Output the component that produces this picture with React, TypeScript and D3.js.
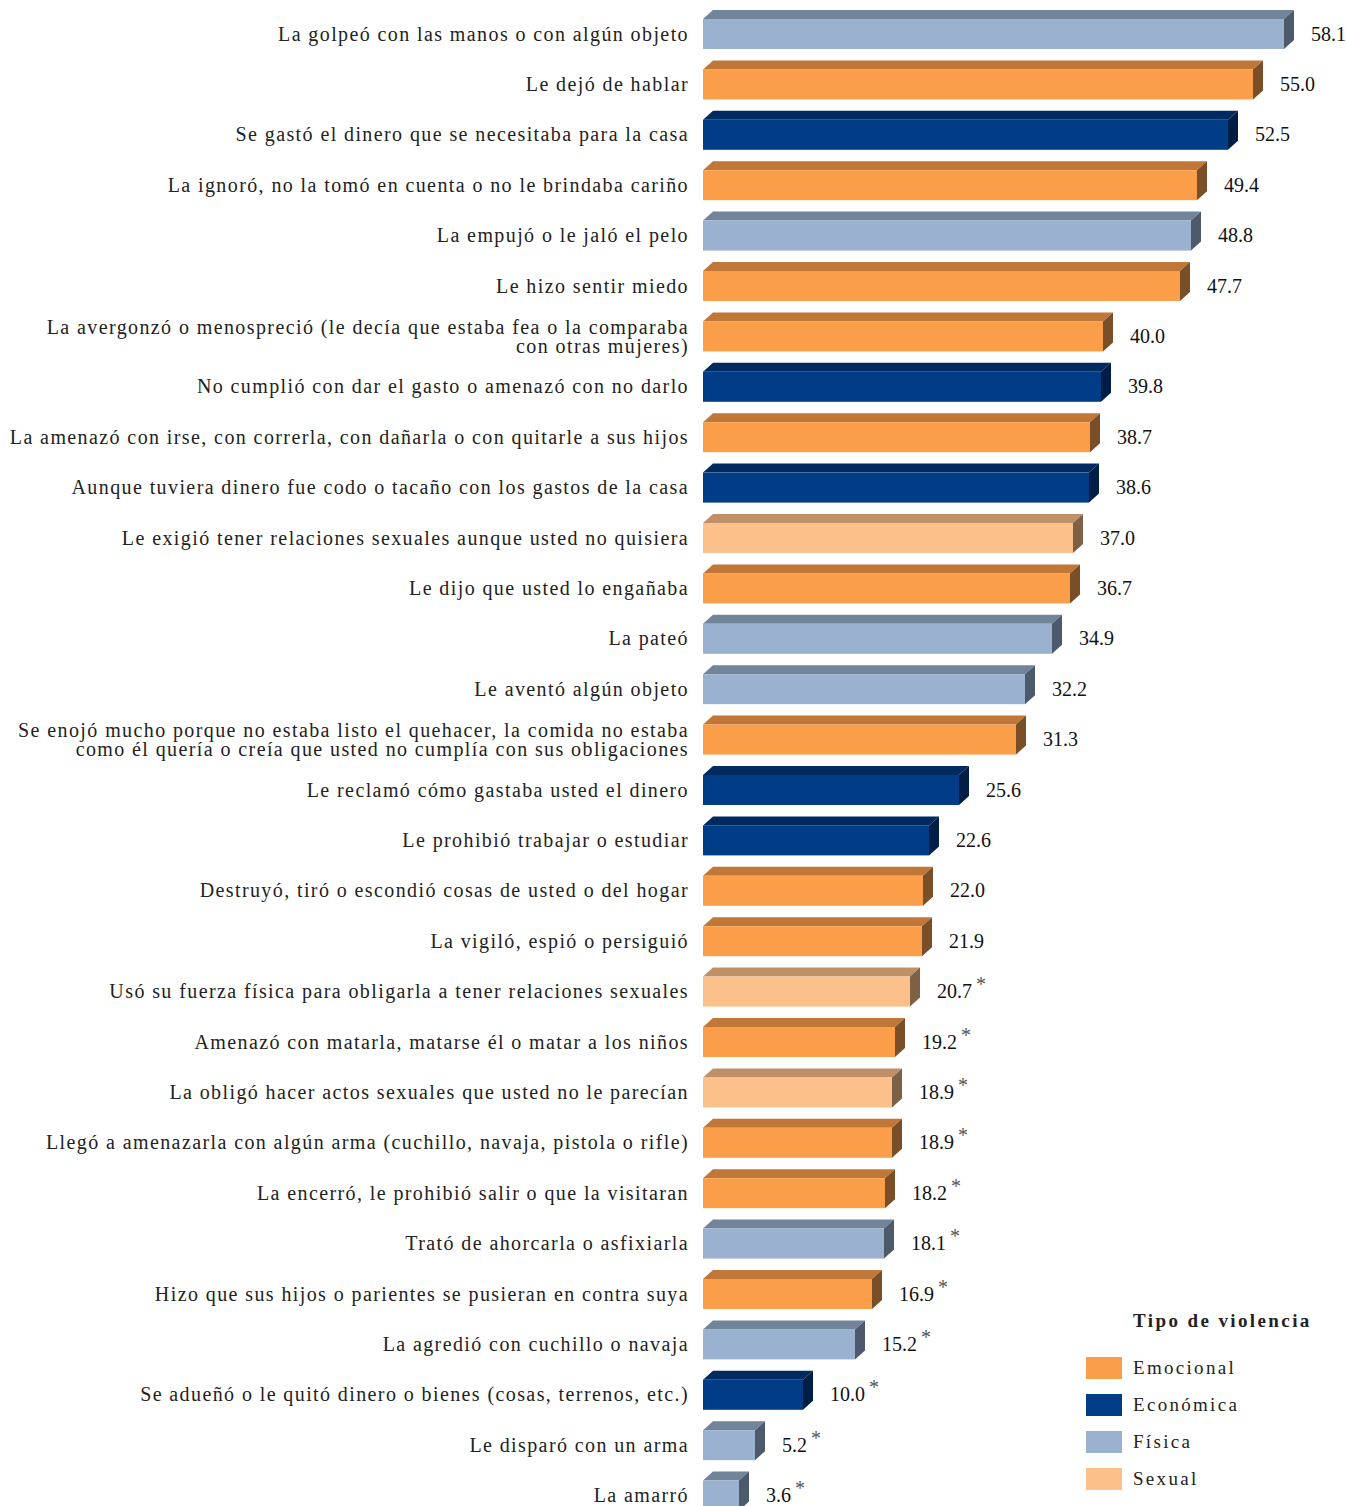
import React from "react";
import * as d3 from "d3";

const labels: string[][] = [
  ["La golpeó con las manos o con algún objeto"],
  ["Le dejó de hablar"],
  ["Se gastó el dinero que se necesitaba para la casa"],
  ["La ignoró, no la tomó en cuenta o no le brindaba cariño"],
  ["La empujó o le jaló el pelo"],
  ["Le hizo sentir miedo"],
  ["La avergonzó o menospreció (le decía que estaba fea o la comparaba", "con otras mujeres)"],
  ["No cumplió con dar el gasto o amenazó con no darlo"],
  ["La amenazó con irse, con correrla, con dañarla o con quitarle a sus hijos"],
  ["Aunque tuviera dinero fue codo o tacaño con los gastos de la casa"],
  ["Le exigió tener relaciones sexuales aunque usted no quisiera"],
  ["Le dijo que usted lo engañaba"],
  ["La pateó"],
  ["Le aventó algún objeto"],
  ["Se enojó mucho porque no estaba listo el quehacer, la comida no estaba", "como él quería o creía que usted no cumplía con sus obligaciones"],
  ["Le reclamó cómo gastaba usted el dinero"],
  ["Le prohibió trabajar o estudiar"],
  ["Destruyó, tiró o escondió cosas de usted o del hogar"],
  ["La vigiló, espió o persiguió"],
  ["Usó su fuerza física para obligarla a tener relaciones sexuales"],
  ["Amenazó con matarla, matarse él o matar a los niños"],
  ["La obligó hacer actos sexuales que usted no le parecían"],
  ["Llegó a amenazarla con algún arma (cuchillo, navaja, pistola o rifle)"],
  ["La encerró, le prohibió salir o que la visitaran"],
  ["Trató de ahorcarla o asfixiarla"],
  ["Hizo que sus hijos o parientes se pusieran en contra suya"],
  ["La agredió con cuchillo o navaja"],
  ["Se adueñó o le quitó dinero o bienes (cosas, terrenos, etc.)"],
  ["Le disparó con un arma"],
  ["La amarró"],
];

const values: number[] = [
  58.1, 55.0, 52.5, 49.4, 48.8, 47.7, 40.0, 39.8, 38.7, 38.6, 37.0, 36.7, 34.9, 32.2, 31.3,
  25.6, 22.6, 22.0, 21.9, 20.7, 19.2, 18.9, 18.9, 18.2, 18.1, 16.9, 15.2, 10.0, 5.2, 3.6,
];

const types: string[] = [
  "Física", "Emocional", "Económica", "Emocional", "Física", "Emocional", "Emocional", "Económica",
  "Emocional", "Económica", "Sexual", "Emocional", "Física", "Física", "Emocional", "Económica",
  "Económica", "Emocional", "Emocional", "Sexual", "Emocional", "Sexual", "Emocional", "Emocional",
  "Física", "Emocional", "Física", "Económica", "Física", "Física",
];

const flagged: boolean[] = values.map((_, i) => i >= 19);

const legendTypes: string[] = ["Emocional", "Económica", "Física", "Sexual"];

const palette: Record<string, { front: string; top: string; side: string }> = {
  Emocional: { front: "#FB9E4A", top: "#C07737", side: "#7A4E26" },
  Económica: { front: "#003D86", top: "#002B60", side: "#001E45" },
  Física: { front: "#9BB1D0", top: "#71849A", side: "#4D5A6B" },
  Sexual: { front: "#FCC08A", top: "#BF9068", side: "#7E6044" },
};

export default function App() {
  const W = 1346;
  const H = 1506;
  const x = d3.scaleLinear().domain([0, 10]).range([703, 803]);
  const y = d3
    .scalePoint<number>()
    .domain(d3.range(values.length))
    .range([34, 1495.6]);
  const barH = 30;
  const dx = 10;
  const dy = 9;
  const fontFam = "'Liberation Serif', 'Times New Roman', serif";

  return (
    <svg
      width={W}
      height={H}
      style={{ position: "absolute", left: 0, top: 0, display: "block", fontFamily: fontFam }}
    >
      <rect width={W} height={H} fill="#fff" />
      {values.map((v, i) => {
        const cy = y(i)!;
        const x0 = x(0);
        const x1 = x(v);
        const t = cy - barH / 2;
        const b = cy + barH / 2;
        const c = palette[types[i]];
        const lines = labels[i];
        const lh = 19;
        const startY = cy - ((lines.length - 1) * lh) / 2;
        return (
          <g key={i}>
            <polygon
              points={`${x0},${t} ${x0 + dx},${t - dy} ${x1 + dx},${t - dy} ${x1},${t}`}
              fill={c.top}
            />
            <polygon
              points={`${x1},${t} ${x1 + dx},${t - dy} ${x1 + dx},${b - dy} ${x1},${b}`}
              fill={c.side}
            />
            <rect x={x0} y={t} width={x1 - x0} height={barH} fill={c.front} />
            <text x={689} textAnchor="end" fontSize={20} letterSpacing={1.4} fill="#222">
              {lines.map((ln, k) => (
                <tspan key={k} x={689} y={startY + k * lh} dy="0.33em">
                  {ln}
                </tspan>
              ))}
            </text>
            <text x={x1 + 27} y={cy} dy="0.33em" fontSize={20} fill="#111">
              {v.toFixed(1)}
              {flagged[i] ? (
                <tspan dx={4} dy={-7} fontSize={20} fill="#555">
                  *
                </tspan>
              ) : null}
            </text>
          </g>
        );
      })}
      <text x={1133} y={1327} fontSize={19} fontWeight="bold" letterSpacing={2.4} fill="#222">
        Tipo de violencia
      </text>
      {legendTypes.map((tp, k) => {
        const ly = 1368 + k * 37;
        return (
          <g key={tp}>
            <rect x={1086} y={ly - 11} width={36} height={22} fill={palette[tp].front} />
            <text x={1133} y={ly} dy="0.33em" fontSize={19} letterSpacing={2.3} fill="#222">
              {tp}
            </text>
          </g>
        );
      })}
    </svg>
  );
}
